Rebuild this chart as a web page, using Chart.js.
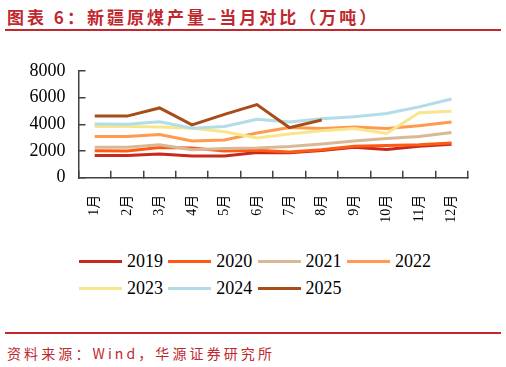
<!DOCTYPE html>
<html>
<head>
<meta charset="utf-8">
<script src="https://cdn.jsdelivr.net/npm/chart.js@4/dist/chart.umd.min.js"></script>
<style>
  html, body { margin: 0; padding: 0; background: #fff; }
  #wrap { position: relative; width: 506px; height: 367px; overflow: hidden; }
  #title {
    position: absolute; left: 7px; top: 4px;
    font: bold 17px "Noto Sans CJK SC", sans-serif; letter-spacing: 3px;
    color: #c0282e; white-space: nowrap;
  }
  .rule { position: absolute; left: 5px; width: 496px; height: 2px; background: #c0282e; }
  #chart-box { position: absolute; left: 0; top: 40px; width: 506px; height: 200px; }
  #legend { position: absolute; left: 79px; top: 248px; }
  .lg-item {
    position: absolute; display: flex; align-items: center; height: 27px;
    font: 18px "Liberation Serif", "Times New Roman", serif; color: #000;
  }
  .lg-line { width: 43px; height: 3px; margin-right: 5px; }
  #source {
    position: absolute; left: 7px; top: 343px;
    font: 14px "Noto Sans CJK SC", sans-serif; letter-spacing: 3.1px;
    color: #c0282e; white-space: nowrap;
  }
</style>
</head>
<body>
<div id="wrap">
  <div id="title">图表 6：新疆原煤产量–当月对比（万吨）</div>
  <div class="rule" style="top:29px"></div>
  <div id="chart-box"><canvas id="coal-canvas"></canvas></div>
  <div id="legend"></div>
  <div class="rule" style="top:332px"></div>
  <div id="source">资料来源：Wind，华源证券研究所</div>
</div>
<script>
  // monthly output, 10k tonnes
  var months = ["1月", "2月", "3月", "4月", "5月", "6月", "7月", "8月", "9月", "10月", "11月", "12月"];
  var years = ["2019", "2020", "2021", "2022", "2023", "2024", "2025"];
  var colors = ["#c8281e", "#ff5a12", "#d9b995", "#ff9a4e", "#f8e68c", "#b2dce8", "#a84d18"];

  var y2019 = [1670, 1670, 1770, 1620, 1620, 1890, 1860, 2040, 2280, 2110, 2360, 2500];
  var y2020 = [2010, 2000, 2260, 2230, 1990, 2050, 1920, 2090, 2360, 2410, 2460, 2600];
  var y2021 = [2280, 2280, 2460, 2090, 2190, 2230, 2330, 2530, 2750, 2940, 3090, 3390];
  var y2022 = [3090, 3090, 3240, 2750, 2830, 3340, 3750, 3680, 3800, 3680, 3880, 4170];
  var y2023 = [3830, 3830, 3800, 3700, 3440, 2970, 3270, 3510, 3680, 3310, 4860, 4980];
  var y2024 = [4020, 4000, 4190, 3710, 3830, 4370, 4170, 4410, 4560, 4810, 5300, 5890];
  var y2025 = [4610, 4610, 5220, 3950, 4740, 5470, 3750, 4320];

  var series = [y2019, y2020, y2021, y2022, y2023, y2024, y2025];
  var AXIS = "#404040";
  var SERIF = "'Liberation Serif', 'Times New Roman', 'Noto Sans CJK SC', serif";

  var datasets = series.map(function (vals, i) {
    return {
      label: years[i],
      data: vals,
      borderColor: colors[i],
      backgroundColor: colors[i],
      borderWidth: 3,
      pointRadius: 0,
      tension: 0,
      order: series.length - i
    };
  });

  // legend as a 4-column grid, left aligned like the original
  var legend = document.getElementById("legend");
  years.forEach(function (yr, i) {
    var item = document.createElement("div");
    item.className = "lg-item";
    item.style.left = (i % 4) * 89.3 + "px";
    item.style.top = Math.floor(i / 4) * 27.4 + "px";
    var line = document.createElement("span");
    line.className = "lg-line";
    line.style.background = colors[i];
    item.appendChild(line);
    item.appendChild(document.createTextNode(yr));
    legend.appendChild(item);
  });

  new Chart(document.getElementById("coal-canvas"), {
    type: "line",
    data: { labels: months, datasets: datasets },
    options: {
      responsive: true,
      maintainAspectRatio: false,
      animation: false,
      layout: { padding: { top: 29, right: 38.3, left: 0, bottom: 0 } },
      plugins: { legend: { display: false }, tooltip: { enabled: false } },
      scales: {
        x: {
          type: "category",
          offset: true,
          grid: { offset: true, drawOnChartArea: false, drawTicks: true, tickLength: -7, color: AXIS, lineWidth: 1.5 },
          border: { color: AXIS, width: 1.5 },
          ticks: { minRotation: 90, maxRotation: 90, padding: 24, color: "#000", font: { family: SERIF, size: 14 } },
          afterFit: function (s) { s.height = 62.3; }
        },
        y: {
          min: 0,
          max: 8000,
          ticks: {
            stepSize: 2000, padding: 20, color: "#000", font: { family: SERIF, size: 18 },
            callback: function (v) { return String(v); }
          },
          grid: { drawOnChartArea: false, drawTicks: true, tickLength: -7, color: AXIS, lineWidth: 1.5 },
          border: { color: AXIS, width: 1.5 },
          afterFit: function (s) { s.width = 78.5; }
        }
      }
    }
  });
</script>
</body>
</html>
